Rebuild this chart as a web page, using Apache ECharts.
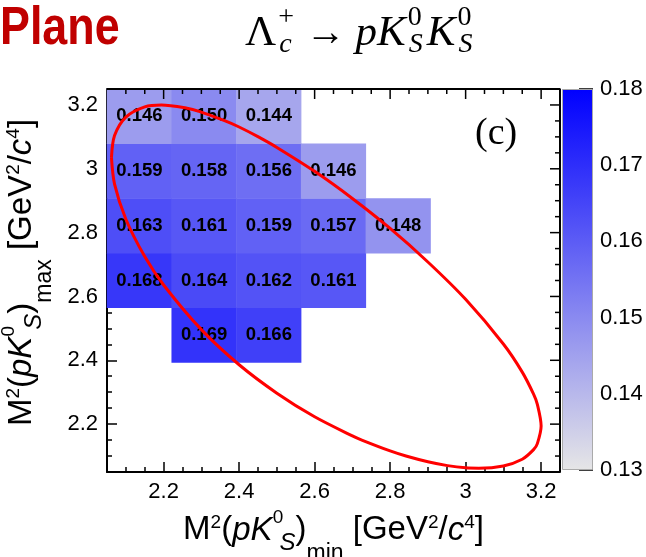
<!DOCTYPE html>
<html><head><meta charset="utf-8">
<script src="https://cdn.jsdelivr.net/npm/echarts@6/dist/echarts.min.js"></script>
<style>html,body{margin:0;padding:0;background:#fff}#c{width:646px;height:557px}</style>
</head><body><div id="c"></div>
<script>
// ---- data ----
const binEdges = [2.05, 2.2214, 2.3929, 2.5643, 2.7357, 2.9071, 3.0786, 3.25];
// efficiency values per y-bin row (row index 0 = lowest y bin), x-bin order left->right
const row0 = [null, null, null, null, null, null, null];
const row1 = [null, null, null, null, null, null, null];
const row2 = [null, 0.169, 0.166, null, null, null, null];
const row3 = [0.168, 0.164, 0.162, 0.161, null, null, null];
const row4 = [0.163, 0.161, 0.159, 0.157, 0.148, null, null];
const row5 = [0.159, 0.158, 0.156, 0.146, null, null, null];
const row6 = [0.146, 0.150, 0.144, null, null, null, null];
// Dalitz boundary (red contour)
const boundaryX = [2.0618, 2.07, 2.10, 2.15, 2.194, 2.262, 2.294, 2.363, 2.40, 2.451, 2.50, 2.60, 2.70, 2.80, 2.90, 3.00, 3.10, 3.15, 3.18, 3.19, 3.20, 3.19, 3.18, 3.15, 3.10, 3.035, 3.00, 2.952, 2.90, 2.842, 2.80, 2.725, 2.70, 2.60, 2.50, 2.40, 2.30, 2.20, 2.15, 2.10, 2.07, 2.0618];
const boundaryY = [3.035, 3.104, 3.162, 3.194, 3.200, 3.190, 3.180, 3.150, 3.131, 3.100, 3.067, 2.992, 2.907, 2.813, 2.708, 2.591, 2.451, 2.363, 2.294, 2.262, 2.194, 2.139, 2.120, 2.090, 2.069, 2.0618, 2.063, 2.070, 2.082, 2.100, 2.116, 2.150, 2.163, 2.223, 2.297, 2.386, 2.496, 2.636, 2.725, 2.842, 2.952, 3.035];
const axisTickLabels = [2.2, 2.4, 2.6, 2.8, 3.0, 3.2];
const axisMinorTicks = [2.10, 2.15, 2.25, 2.30, 2.35, 2.45, 2.50, 2.55, 2.65, 2.70, 2.75, 2.85, 2.90, 2.95, 3.05, 3.10, 3.15];
const axisRange = [2.05, 3.25];
const colorbarRange = [0.13, 0.18];
const paletteColors = ['#e6e6e6', '#0000ff'];

// ---- build ----
const rows = [row0, row1, row2, row3, row4, row5, row6];
const cats = binEdges.slice(0, -1).map((e, i) => ((e + binEdges[i + 1]) / 2).toFixed(3));
const heatData = [];
rows.forEach((row, j) => row.forEach((v, i) => { if (v != null) heatData.push([i, j, v]); }));
const boundary = boundaryX.map((x, k) => [x, boundaryY[k]]);
// mirrored frame (top and right edges) and its ticks, placed through the axis scales
const frameEdges = [[axisRange[0], axisRange[1]], [axisRange[1], axisRange[1]], [axisRange[1], axisRange[0]]];
const mirrorTicks = axisTickLabels.map(v => [v, 1]).concat(axisMinorTicks.map(v => [v, 0]));

const F = "'Liberation Sans', Arial, Helvetica, sans-serif";
const tickFmt = v => {
  const t = axisTickLabels.find(a => Math.abs(a - v) < 1e-6);
  return t == null ? '' : String(+t.toFixed(1));
};
const titleRich = {
  b: {fontSize: 33, fontFamily: F, color: '#000'},
  i: {fontSize: 33, fontFamily: F, fontStyle: 'italic', color: '#000'},
  sup: {fontSize: 19, fontFamily: F, color: '#000', padding: [0, 0, 16, 0]},
  st: {fontSize: 19, fontFamily: F, color: '#000', padding: [0, 0, 26, 5], width: 1},
  ss: {fontSize: 24, fontFamily: F, fontStyle: 'italic', color: '#000', padding: [25, 0, 0, 1]},
  sm: {fontSize: 23, fontFamily: F, color: '#000', padding: [46, 0, 0, 0]}
};
const xTitle = '{b|M}{sup|2}{b|(}{i|pK}{st|0}{ss|S}{b|)}{sm|min}{b| [GeV}{sup|2}{b|/}{i|c}{sup|4}{b|]}';
const yTitle = '{b|M}{sup|2}{b|(}{i|pK}{st|0}{ss|S}{b|)}{sm|max}{b| [GeV}{sup|2}{b|/}{i|c}{sup|4}{b|]}';

function valAxis(pos, extra) {
  return Object.assign({
    type: 'value', gridIndex: 0, position: pos, min: axisRange[0], max: axisRange[1], splitNumber: 5,
    axisLine: {show: true, onZero: false, lineStyle: {color: '#000', width: 2}},
    axisTick: {show: true, inside: true, length: 10, lineStyle: {color: '#000', width: 1.5}},
    minorTick: {show: true, splitNumber: 4, length: 5, lineStyle: {color: '#000', width: 1.5}},
    axisLabel: {show: true, formatter: tickFmt, color: '#000', fontSize: 22, fontFamily: F, margin: 9},
    splitLine: {show: false}, minorSplitLine: {show: false}
  }, extra || {});
}

const chart = echarts.init(document.getElementById('c'), null, {renderer: 'canvas'});
chart.setOption({
  animation: false,
  backgroundColor: '#fff',
  grid: [
    {left: 107, top: 89, width: 453, height: 383, outerBoundsMode: 'none'},
    {left: 562, top: 89, width: 31, height: 381, outerBoundsMode: 'none'},
    {left: 107, top: 89, width: 453, height: 383, outerBoundsMode: 'none'}
  ],
  xAxis: [
    valAxis('bottom', {
      name: xTitle, nameLocation: 'middle', nameGap: 12,
      nameTextStyle: {rich: titleRich, fontSize: 33, fontFamily: F, color: '#000'}
    }),
    {type: 'category', gridIndex: 1, data: ['cb'], show: false, boundaryGap: true},
    {type: 'category', gridIndex: 2, data: cats, show: false, boundaryGap: true}
  ],
  yAxis: [
    valAxis('left', {
      name: yTitle, nameLocation: 'middle', nameGap: 45, nameRotate: 90,
      nameTextStyle: {rich: titleRich, fontSize: 33, fontFamily: F, color: '#000', padding: [0, 0, 0, 16]}
    }),
    {
      type: 'value', gridIndex: 1, position: 'right', min: colorbarRange[0], max: colorbarRange[1], interval: 0.01,
      axisLine: {show: false},
      axisTick: {show: true, inside: true, length: 14, lineStyle: {color: '#000', width: 1.5}},
      axisLabel: {show: true, color: '#000', fontSize: 22, fontFamily: F, margin: 7, formatter: v => v.toFixed(2)},
      splitLine: {show: false}
    },
    {type: 'category', gridIndex: 2, data: cats, show: false, boundaryGap: true}
  ],
  visualMap: {
    type: 'continuous', show: false, min: colorbarRange[0], max: colorbarRange[1],
    dimension: 2, seriesIndex: 0, inRange: {color: paletteColors}
  },
  graphic: [
    {type: 'text', left: 0, top: 2, scaleX: 0.83, style: {text: 'Plane', fontSize: 54, fontWeight: 'bold', fontFamily: "'Liberation Sans', sans-serif", fill: '#C00000'}},
    {type: 'text', left: 245, top: 4, style: {
      text: '{L|Λ}{sw|+}{sc|c}{a| → }{it|pK}{sw|0}{sc|S}{it|K}{sw|0}{sc|S}',
      rich: {
        L: {fontSize: 43, fontFamily: "'Liberation Serif', serif", color: '#000'},
        a: {fontSize: 40, fontFamily: "'Liberation Serif', serif", color: '#000'},
        it: {fontSize: 43, fontFamily: "'Liberation Serif', serif", fontStyle: 'italic', color: '#000'},
        sw: {fontSize: 28, fontFamily: "'Liberation Serif', serif", color: '#000', padding: [0, 0, 32, 2], width: 1},
        sc: {fontSize: 28, fontFamily: "'Liberation Serif', serif", fontStyle: 'italic', color: '#000', padding: [22, 4, 0, 0]}
      }
    }},
    {type: 'text', left: 475, top: 115, style: {text: '(c)', fontSize: 38, fontFamily: "'Liberation Serif', 'DejaVu Serif', serif", fill: '#000'}}
  ],
  series: [
    {
      type: 'heatmap', xAxisIndex: 2, yAxisIndex: 2, data: heatData, z: 1,
      emphasis: {disabled: true},
      itemStyle: {borderWidth: 0},
      label: {show: true, formatter: p => p.value[2].toFixed(3), color: '#000', fontWeight: 'bold', fontSize: 18.5, fontFamily: F}
    },
    {
      type: 'line', xAxisIndex: 0, yAxisIndex: 0, data: boundary, z: 5, smooth: 0.3,
      showSymbol: false, clip: false, silent: true,
      lineStyle: {color: '#ff0000', width: 3}
    },
    {
      type: 'bar', xAxisIndex: 1, yAxisIndex: 1, stack: 'cb', barWidth: '100%', silent: true,
      data: [colorbarRange[0]], itemStyle: {color: 'rgba(0,0,0,0)'}
    },
    {
      type: 'bar', xAxisIndex: 1, yAxisIndex: 1, stack: 'cb', barWidth: '100%', silent: true,
      data: [colorbarRange[1] - colorbarRange[0]],
      itemStyle: {
        borderColor: '#aaa', borderWidth: 1,
        color: {type: 'linear', x: 0, y: 0, x2: 0, y2: 1, colorStops: [
          {offset: 0, color: paletteColors[1]}, {offset: 1, color: paletteColors[0]}]}
      }
    },
    {
      // top and right edges of the ROOT frame
      type: 'line', xAxisIndex: 0, yAxisIndex: 0, data: frameEdges, z: 6,
      showSymbol: false, clip: false, silent: true,
      lineStyle: {color: '#000', width: 2}
    },
    {
      // mirrored ticks on the top and right edges
      type: 'custom', xAxisIndex: 0, yAxisIndex: 0, data: mirrorTicks, z: 6, clip: false, silent: true,
      renderItem: (params, api) => {
        const v = api.value(0);
        const len = api.value(1) ? 10 : 5;
        const top = api.coord([v, axisRange[1]]);
        const right = api.coord([axisRange[1], v]);
        return {type: 'group', children: [
          {type: 'line', shape: {x1: top[0], y1: top[1], x2: top[0], y2: top[1] + len}, style: {stroke: '#000', lineWidth: 1.5}},
          {type: 'line', shape: {x1: right[0], y1: right[1], x2: right[0] - len, y2: right[1]}, style: {stroke: '#000', lineWidth: 1.5}}
        ]};
      }
    }
  ]
});
</script></body></html>
